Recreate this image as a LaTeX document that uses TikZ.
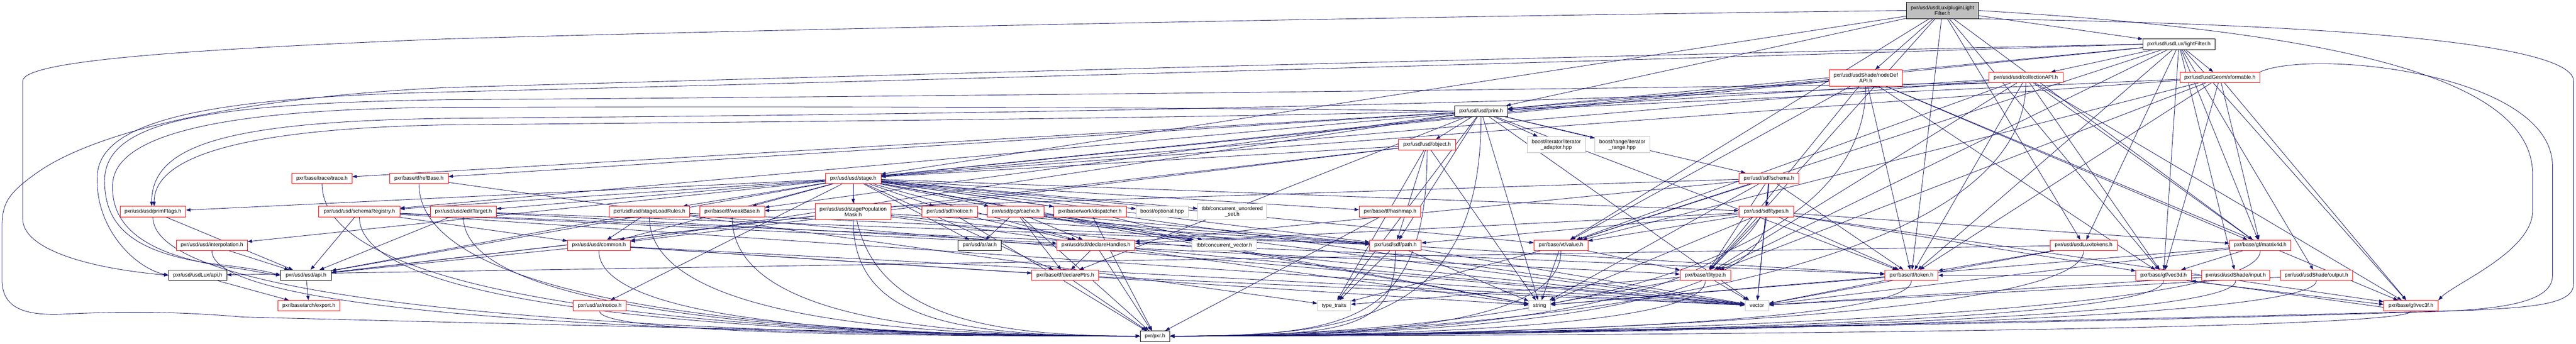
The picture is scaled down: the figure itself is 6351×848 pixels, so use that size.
\documentclass[tikz,border=0pt]{standalone}
\usepackage{fontspec}
\setmainfont{Liberation Sans}
\usetikzlibrary{arrows.meta}
\definecolor{navy}{RGB}{25,25,112}
\definecolor{gborder}{RGB}{191,191,191}
\pgfdeclarelayer{bg}
\pgfsetlayers{bg,main}
\newcommand\edg[2]{\draw[edge] (#1) -- (#2);}
\newcommand\tpl[2]{\draw[edge] (#1.south) .. controls +(0,#2) and +(-450,0) .. (pxr.west);}
\newcommand\tpr[2]{\draw[edge] (#1.south) .. controls +(0,#2) and +(450,0) .. (pxr.east);}
\tikzset{
 nb/.style={draw, line width=1pt, inner sep=0pt, minimum height=26pt, fill=white,
   font=\fontsize{13.1}{14}\selectfont, align=center},
 rb/.style={nb, draw=red},
 kb/.style={nb, draw=black},
 gb/.style={nb, draw=gborder},
 tb/.style={nb, draw=black, fill=gborder},
 edge/.style={draw=navy, line width=1.1pt, -{Triangle[length=11pt,width=8pt]}},
}
\begin{document}
\begin{tikzpicture}[x=1pt,y=-1pt]
\useasboundingbox (0,0) rectangle (6351,848);
% nodes
\node[tb, minimum width=178pt, minimum height=40pt] (plf) at (4789,26) {pxr/usd/usdLux/pluginLight\\Filter.h};
\node[kb, minimum width=178pt] (lf) at (5372,109) {pxr/usd/usdLux/lightFilter.h};
\node[rb, minimum width=180pt, minimum height=40pt] (nodeDef) at (4600,192) {pxr/usd/usdShade/nodeDef\\API.h};
\node[rb, minimum width=183pt] (coll) at (4994.5,191) {pxr/usd/usd/collectionAPI.h};
\node[rb, minimum width=196pt] (xform) at (5473,191) {pxr/usd/usdGeom/xformable.h};
\node[kb, minimum width=131pt] (prim) at (3651.5,274) {pxr/usd/usd/prim.h};
\node[rb, minimum width=141pt] (object) at (3518.5,357) {pxr/usd/usd/object.h};
\node[gb, minimum width=144pt, minimum height=40pt] (iterAd) at (3837,357) {boost/iterator/iterator\\\_adaptor.hpp};
\node[gb, minimum width=135pt, minimum height=40pt] (iterRange) at (3999.5,357) {boost/range/iterator\\\_range.hpp};
\node[rb, minimum width=148pt] (trace) at (794,440) {pxr/base/trace/trace.h};
\node[rb, minimum width=144pt] (refBase) at (1033,440) {pxr/base/tf/refBase.h};
\node[rb, minimum width=137pt] (stage) at (2103.5,440) {pxr/usd/usd/stage.h};
\node[rb, minimum width=148pt] (schema) at (4361,440) {pxr/usd/sdf/schema.h};
\node[rb, minimum width=162pt] (primFlags) at (377,522) {pxr/usd/usd/primFlags.h};
\node[rb, minimum width=200pt] (schemaReg) at (886,522) {pxr/usd/usd/schemaRegistry.h};
\node[rb, minimum width=163pt] (editTarget) at (1142.5,522) {pxr/usd/usd/editTarget.h};
\node[rb, minimum width=198pt] (stageLoad) at (1601,522) {pxr/usd/usd/stageLoadRules.h};
\node[rb, minimum width=160pt] (weakBase) at (1805,522) {pxr/base/tf/weakBase.h};
\node[rb, minimum width=187pt, minimum height=40pt] (popMask) at (2103.5,522) {pxr/usd/usd/stagePopulation\\Mask.h};
\node[rb, minimum width=137pt] (sdfNotice) at (2341.5,522) {pxr/usd/sdf/notice.h};
\node[rb, minimum width=140pt] (pcpCache) at (2504,522) {pxr/usd/pcp/cache.h};
\node[rb, minimum width=179pt] (dispatcher) at (2687.5,522) {pxr/base/work/dispatcher.h};
\node[gb, minimum width=128pt] (optional) at (2865,522) {boost/optional.hpp};
\node[gb, minimum width=170pt, minimum height=40pt] (cus) at (3038,522) {tbb/concurrent\_unordered\\\_set.h};
\node[rb, minimum width=152pt] (hashmap) at (3427,522) {pxr/base/tf/hashmap.h};
\node[rb, minimum width=135pt] (sdfTypes) at (4354.5,522) {pxr/usd/sdf/types.h};
\node[rb, minimum width=175pt] (interp) at (522.5,605) {pxr/usd/usd/interpolation.h};
\node[rb, minimum width=155pt] (common) at (1476.5,605) {pxr/usd/usd/common.h};
\node[kb, minimum width=107pt] (arar) at (2415.5,605) {pxr/usd/ar/ar.h};
\node[rb, minimum width=192pt] (declH) at (2702,605) {pxr/usd/sdf/declareHandles.h};
\node[gb, minimum width=159pt] (cvec) at (3018.5,605) {tbb/concurrent\_vector.h};
\node[rb, minimum width=127pt] (path) at (3440.5,605) {pxr/usd/sdf/path.h};
\node[rb, minimum width=133pt] (value) at (3848.5,605) {pxr/base/vt/value.h};
\node[rb, minimum width=166pt] (luxTokens) at (5137,605) {pxr/usd/usdLux/tokens.h};
\node[rb, minimum width=151pt] (m4d) at (5572.5,605) {pxr/base/gf/matrix4d.h};
\node[kb, minimum width=143pt] (luxApi) at (487.5,679) {pxr/usd/usdLux/api.h};
\node[kb, minimum width=125pt] (usdApi) at (754.5,679) {pxr/usd/usd/api.h};
\node[rb, minimum width=165pt] (declP) at (2626.5,679) {pxr/base/tf/declarePtrs.h};
\node[rb, minimum width=125pt] (tfType) at (4204.5,679) {pxr/base/tf/type.h};
\node[rb, minimum width=131pt] (tfToken) at (4712.5,679) {pxr/base/tf/token.h};
\node[rb, minimum width=136pt] (vec3d) at (5334,679) {pxr/base/gf/vec3d.h};
\node[rb, minimum width=168pt] (input) at (5512,679) {pxr/usd/usdShade/input.h};
\node[rb, minimum width=178pt] (output) at (5711,679) {pxr/usd/usdShade/output.h};
\node[rb, minimum width=153pt] (export) at (761.5,754) {pxr/base/arch/export.h};
\node[rb, minimum width=131pt] (arNotice) at (1478.5,754) {pxr/usd/ar/notice.h};
\node[gb, minimum width=82pt] (typeTraits) at (3289,754) {type\_traits};
\node[gb, minimum width=54pt] (string) at (3796,754) {string};
\node[gb, minimum width=59pt] (vector) at (4331.5,754) {vector};
\node[rb, minimum width=134pt] (vec3f) at (5944,754) {pxr/base/gf/vec3f.h};
\node[kb, minimum width=73pt] (pxr) at (2847.5,829) {pxr/pxr.h};
\begin{pgfonlayer}{bg}
\fill[white] (0,0) rectangle (6351,848);
% long loops on the left
\draw[edge] (plf.west) .. controls (3500,40) and (2000,70) .. (1100,96) .. controls (450,122) and (56,150) .. (56,200) -- (56,540) .. controls (56,610) and (200,660) .. (luxApi.west);
\draw[edge] (lf.west) .. controls (4000,135) and (2000,190) .. (1100,216) .. controls (600,240) and (250,320) .. (100,420) .. controls (20,475) and (5,500) .. (5,560) -- (5,690) .. controls (5,760) and (60,778) .. (150,775) .. controls (260,770) and (400,765) .. (600,782) .. controls (1500,805) and (2400,825) .. (pxr.west);
\draw[edge] (lf.west) .. controls (4000,150) and (2000,205) .. (1100,227) .. controls (500,240) and (250,300) .. (240,430) .. controls (232,560) and (330,660) .. (luxApi.west);
\draw[edge] (coll.south west) .. controls (3500,225) and (2000,240) .. (1100,246) .. controls (500,255) and (265,300) .. (258,440) .. controls (255,560) and (330,630) .. (560,655) .. controls (620,662) and (660,670) .. (usdApi.west);
\draw[edge] (prim.west) .. controls (3000,265) and (2000,262) .. (1100,265) .. controls (600,268) and (290,320) .. (278,450) .. controls (270,560) and (360,630) .. (570,660) .. controls (630,668) and (660,676) .. (usdApi.west);
\draw[edge] (coll.south west) .. controls (3500,270) and (2000,285) .. (1100,292) .. controls (550,300) and (374,360) .. ([xshift=-3pt]primFlags.north);
\draw[edge] (prim.west) .. controls (3000,290) and (2000,300) .. (1100,308) .. controls (580,318) and (380,390) .. ([xshift=3pt]primFlags.north);
% long loops on the right
\draw[edge] (plf.south east) .. controls (5800,60) and (6345,110) .. (6345,200) -- (6345,700) .. controls (6345,750) and (6250,757) .. (6100,765) .. controls (5000,795) and (3500,826) .. (pxr.east);
\draw[edge] (xform.north east) .. controls (5700,120) and (6293,180) .. (6293,410) -- (6293,680) .. controls (6293,750) and (6150,766) .. (5950,770) .. controls (5000,800) and (3500,824) .. (pxr.east);
\draw[edge] (plf.east) .. controls (5800,80) and (6244,200) .. (6244,430) -- (6244,520) .. controls (6244,620) and (6050,700) .. (vec3f.north east);
% bundles into pxr.h
\tpl{primFlags}{280}\tpl{schemaReg}{280}\tpl{editTarget}{280}\tpl{stageLoad}{270}
\tpl{weakBase}{260}\tpl{popMask}{250}\tpl{trace}{360}\tpl{refBase}{360}
\tpl{interp}{200}\tpl{common}{200}\tpl{arNotice}{60}\tpl{stage}{300}
\tpr{path}{190}\tpr{value}{190}\tpr{tfType}{120}\tpr{tfToken}{120}
\tpr{luxTokens}{190}\tpr{m4d}{190}\tpr{vec3d}{120}\tpr{input}{120}
\tpr{output}{120}\tpr{vec3f}{55}\tpr{sdfTypes}{270}\tpr{schema}{350}
\tpr{object}{420}\tpr{prim}{500}\tpr{coll}{560}
\tpr{nodeDef}{560}
\edg{declH}{pxr}\edg{declP}{pxr}\edg{sdfNotice}{pxr}\edg{pcpCache}{pxr}
\edg{dispatcher}{pxr}\edg{hashmap}{pxr}
% pluginLightFilter.h
\edg{plf}{lf}\edg{plf}{prim}\edg{plf}{stage}\edg{plf}{luxTokens}\edg{plf}{nodeDef}
\edg{plf}{value}\edg{plf}{vec3d}\edg{plf}{m4d}\edg{plf}{tfToken}\edg{plf}{tfType}
% lightFilter.h
\edg{lf}{xform}\edg{lf}{prim}\edg{lf}{stage}\edg{lf}{luxTokens}\edg{lf}{coll}
\edg{lf}{input}\edg{lf}{output}\edg{lf}{value}\edg{lf}{vec3d}\edg{lf}{vec3f}
\edg{lf}{m4d}\edg{lf}{tfToken}\edg{lf}{tfType}
% nodeDefAPI.h
\edg{nodeDef}{prim}\edg{nodeDef}{stage}\edg{nodeDef}{value}\edg{nodeDef}{vec3d}
\edg{nodeDef}{vec3f}\edg{nodeDef}{m4d}\edg{nodeDef}{tfToken}\edg{nodeDef}{tfType}
% collectionAPI.h
\edg{coll}{prim}\edg{coll}{stage}\edg{coll}{value}\edg{coll}{vec3d}
\edg{coll}{vec3f}\edg{coll}{m4d}\edg{coll}{tfToken}\edg{coll}{tfType}
% xformable.h
\edg{xform}{prim}\edg{xform}{stage}\edg{xform}{value}\edg{xform}{vec3d}
\edg{xform}{vec3f}\edg{xform}{m4d}\edg{xform}{tfToken}\edg{xform}{tfType}
% prim.h
\edg{prim}{common}\edg{prim}{object}\edg{prim}{schemaReg}\edg{prim}{path}
\edg{prim}{trace}\edg{prim}{declP}\edg{prim}{refBase}\edg{prim}{weakBase}
\edg{prim}{tfToken}\edg{prim}{iterAd}\edg{prim}{iterRange}\edg{prim}{string}
\edg{prim}{typeTraits}\edg{prim}{vector}\edg{prim}{schema}
% object.h
\edg{object}{usdApi}\edg{object}{common}\edg{object}{stage}\edg{object}{path}
\edg{object}{typeTraits}\edg{object}{string}
% stage.h
\edg{stage}{usdApi}\edg{stage}{common}\edg{stage}{editTarget}\edg{stage}{interp}
\edg{stage}{schemaReg}\edg{stage}{stageLoad}\edg{stage}{popMask}\edg{stage}{primFlags}
\edg{stage}{arar}\edg{stage}{arNotice}\edg{stage}{pcpCache}\edg{stage}{declH}
\edg{stage}{sdfNotice}\edg{stage}{path}\edg{stage}{sdfTypes}\edg{stage}{declP}
\edg{stage}{hashmap}\edg{stage}{weakBase}\edg{stage}{value}\edg{stage}{dispatcher}
\edg{stage}{optional}\edg{stage}{cvec}\edg{stage}{cus}\edg{stage}{string}\edg{stage}{vector}
% sdf/schema.h
\edg{schema}{sdfTypes}\edg{schema}{declH}\edg{schema}{value}\edg{schema}{tfToken}
\edg{schema}{tfType}\edg{schema}{vector}\edg{schema}{string}\edg{schema}{weakBase}
% sdf/types.h
\edg{sdfTypes}{declH}\edg{sdfTypes}{path}\edg{sdfTypes}{value}\edg{sdfTypes}{tfToken}
\edg{sdfTypes}{tfType}\edg{sdfTypes}{vector}\edg{sdfTypes}{string}\edg{sdfTypes}{m4d}
\edg{sdfTypes}{vec3d}\edg{sdfTypes}{vec3f}
% row 7 and below
\edg{primFlags}{usdApi}
\edg{schemaReg}{usdApi}\edg{schemaReg}{common}\edg{schemaReg}{tfToken}\edg{schemaReg}{tfType}\edg{schemaReg}{vector}
\edg{editTarget}{usdApi}\edg{editTarget}{path}\edg{editTarget}{declH}
\edg{stageLoad}{common}\edg{stageLoad}{usdApi}\edg{stageLoad}{path}\edg{stageLoad}{vector}
\edg{popMask}{usdApi}\edg{popMask}{path}\edg{popMask}{vector}\edg{popMask}{string}
\edg{sdfNotice}{declH}\edg{sdfNotice}{path}
\edg{pcpCache}{arar}\edg{pcpCache}{declH}\edg{pcpCache}{declP}\edg{pcpCache}{path}
\edg{pcpCache}{cvec}\edg{pcpCache}{string}\edg{pcpCache}{vector}
\edg{dispatcher}{cvec}
\edg{interp}{usdApi}
\edg{common}{usdApi}\edg{common}{declP}\edg{common}{string}\edg{common}{vector}
\edg{declH}{declP}\edg{declH}{vector}
\edg{path}{string}\edg{path}{typeTraits}\edg{path}{vector}\edg{path}{tfToken}
\edg{value}{string}\edg{value}{typeTraits}\edg{value}{tfType}
\edg{luxTokens}{luxApi}\edg{luxTokens}{tfToken}\edg{luxTokens}{vector}
\edg{m4d}{vec3d}\edg{m4d}{vector}\edg{m4d}{string}
\edg{luxApi}{export}\edg{usdApi}{export}
\edg{declP}{vector}
\edg{tfType}{string}\edg{tfType}{typeTraits}\edg{tfType}{vector}
\edg{tfToken}{vector}\edg{tfToken}{string}
\edg{input}{vector}\edg{input}{tfToken}
\edg{output}{vector}
\edg{refBase}{typeTraits}
\draw[edge] ([xshift=-12pt]vec3d.south east) -- ([yshift=3pt]vec3f.west);
\draw[edge] ([yshift=-4pt]vec3f.west) -- (vec3d.south east);
\end{pgfonlayer}
\end{tikzpicture}
\end{document}
